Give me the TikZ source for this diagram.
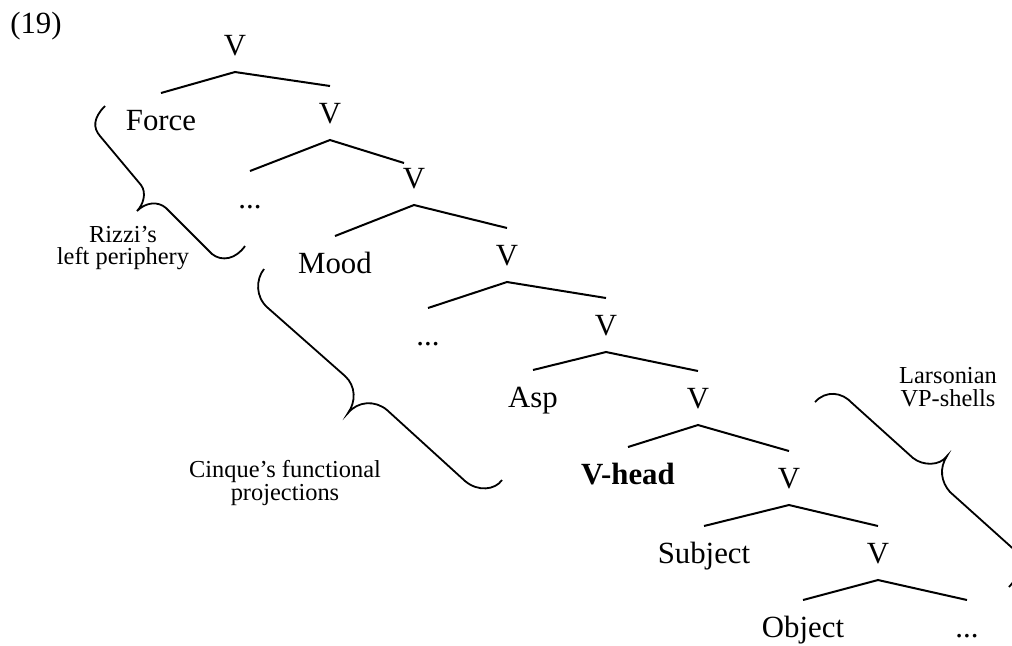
\documentclass[tikz,border=0pt]{standalone}
\usepackage{fontspec}
\setmainfont{Liberation Serif}
\newcommand{\treefont}{\fontsize{15.4pt}{18pt}\selectfont}
\newcommand{\notefont}{\fontsize{12.2pt}{11.4pt}\selectfont}
\begin{document}
\begin{tikzpicture}[x=0.5pt, y=-0.5pt,
        lab/.style={font=\treefont, inner sep=0pt, outer xsep=0pt, outer ysep=8.5pt,
            text height=10pt, text depth=0pt, anchor=base},
        branch/.style={line width=1pt},
        curly/.style={line width=0.9pt},
        note/.style={font=\notefont, align=center}]
        \useasboundingbox (0,0) rectangle (1012,645);
        % 编号
        \node[font=\treefont, anchor=base] (num) at (36,33) {(19)};
        % 树的节点
        \node[lab] (v1) at (235,55) {V};
        \node[lab] (force) at (161,130) {Force};
        \node[lab] (v2) at (330,123) {V};
        \node[lab] (dots1) at (250,208) {...};
        \node[lab] (v3) at (414,188) {V};
        \node[lab] (mood) at (335,273) {Mood};
        \node[lab] (v4) at (507,265) {V};
        \node[lab] (dots2) at (428,345) {...};
        \node[lab] (v5) at (606,335) {V};
        \node[lab] (asp) at (533,407) {Asp};
        \node[lab] (v6) at (698,408) {V};
        \node[lab, font=\treefont\bfseries] (vhead) at (628,484) {V-head};
        \node[lab] (v7) at (789,488) {V};
        \node[lab] (subject) at (704,563) {Subject};
        \node[lab] (v8) at (878,563) {V};
        \node[lab] (object) at (803,637) {Object};
        \node[lab] (dots3) at (967,637) {...};
        % 树枝
        \draw[branch] (force.north) -- (v1.south) -- (v2.north);
        \draw[branch] (dots1.north) -- (v2.south) -- ([xshift=-5pt,yshift=-6pt]v3.north);
        \draw[branch] (mood.north) -- (v3.south) -- (v4.north);
        \draw[branch] (dots2.north) -- (v4.south) -- (v5.north);
        \draw[branch] (asp.north) -- (v5.south) -- (v6.north);
        \draw[branch] (vhead.north) -- (v6.south) -- (v7.north);
        \draw[branch] (subject.north) -- (v7.south) -- (v8.north);
        \draw[branch] (object.north) -- (v8.south) -- (dots3.north);
        % 括号
        \draw[curly] (105,106) .. controls (93,118) and (93,128) .. (100,136) -- (141,185)
            .. controls (147,193) and (143,205) .. (137,211)
            .. controls (146,202) and (158,201) .. (166,208) -- (212,254)
            .. controls (222,262) and (236,259) .. (245,246);
        \draw[curly] (264,269) .. controls (256,279) and (255,297) .. (268,308) -- (345,376)
            .. controls (356,386) and (356,402) .. (348,413)
            .. controls (358,401) and (375,400) .. (387,410) -- (465,481)
            .. controls (478,492) and (495,490) .. (502,480);
        \draw[curly] (815,402) .. controls (826,390) and (842,392) .. (852,403) -- (913,458)
            .. controls (923,466) and (940,466) .. (947,456)
            .. controls (939,468) and (941,482) .. (950,492) -- (1009,545)
            .. controls (1021,554) and (1025,570) .. (1009,587);
        % 说明文字
        \node[note] (rizzi) at (123,248) {Rizzi’s\\left periphery};
        \node[note] (cinque) at (285,483) {Cinque’s functional\\projections};
        \node[note] (larson) at (948,387) {Larsonian\\VP-shells};
    \end{tikzpicture}
\end{document}
